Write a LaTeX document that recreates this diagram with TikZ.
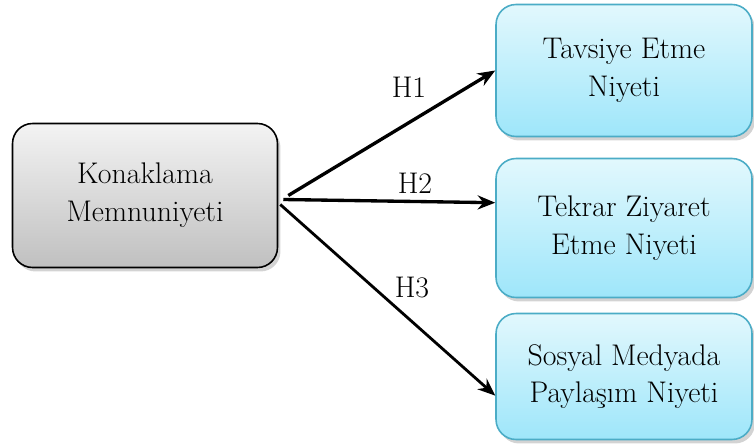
\documentclass[tikz,border=0pt]{standalone}
\usetikzlibrary{shadows,calc,arrows.meta}
\definecolor{boxgraytop}{RGB}{243,243,243}
\definecolor{boxgraybot}{RGB}{192,192,192}
\definecolor{boxbluetop}{RGB}{226,248,253}
\definecolor{boxbluebot}{RGB}{158,230,250}
\definecolor{boxblueline}{RGB}{75,172,198}
\tikzset{
  basebox/.style={rounded corners=0.4cm,align=center,inner sep=0pt,
    font=\fontsize{17}{21.5}\selectfont,
    drop shadow={shadow xshift=0.06cm,shadow yshift=-0.08cm,opacity=0.35}},
  sourcebox/.style={basebox,draw=black,line width=0.9pt,
    top color=boxgraytop,bottom color=boxgraybot},
  targetbox/.style={basebox,draw=boxblueline,line width=0.9pt,
    top color=boxbluetop,bottom color=boxbluebot},
  hyp/.style={->,line width=1.9pt},
  hlabel/.style={font=\fontsize{17}{20}\selectfont}
}
\begin{document}
\begin{tikzpicture}[>={Stealth[length=10pt,width=8pt]},x=0.02cm,y=-0.02cm]
  \useasboundingbox (0,0) rectangle (754,443);
  \node[sourcebox,minimum width=5.3cm,minimum height=2.88cm] (memnun) at (145,195.5) {Konaklama\\Memnuniyeti};
  \node[targetbox,minimum width=5.12cm,minimum height=2.64cm] (tavsiye) at (624,70.5) {Tavsiye Etme\\Niyeti};
  \node[targetbox,minimum width=5.12cm,minimum height=2.78cm] (tekrar) at (624,228) {Tekrar Ziyaret\\Etme Niyeti};
  \node[targetbox,minimum width=5.12cm,minimum height=2.52cm] (paylasim) at (624,376.5) {Sosyal Medyada\\Paylaşım Niyeti};
  % hipotez oklari
  \draw[hyp] ($(memnun.east)+(10,0)$) -- (tavsiye.west);
  \draw[hyp] ($(memnun.east)+(5,4)$) -- ($(tekrar.north west)!0.32!(tekrar.south west)$);
  \draw[hyp,line width=1.6pt] ($(memnun.east)+(2,9)$) -- ($(paylasim.north west)!0.65!(paylasim.south west)$);
  \node[hlabel] (h1) at (409,87) {H1};
  \node[hlabel] (h2) at (415,183) {H2};
  \node[hlabel] (h3) at (412,288) {H3};
\end{tikzpicture}
\end{document}
